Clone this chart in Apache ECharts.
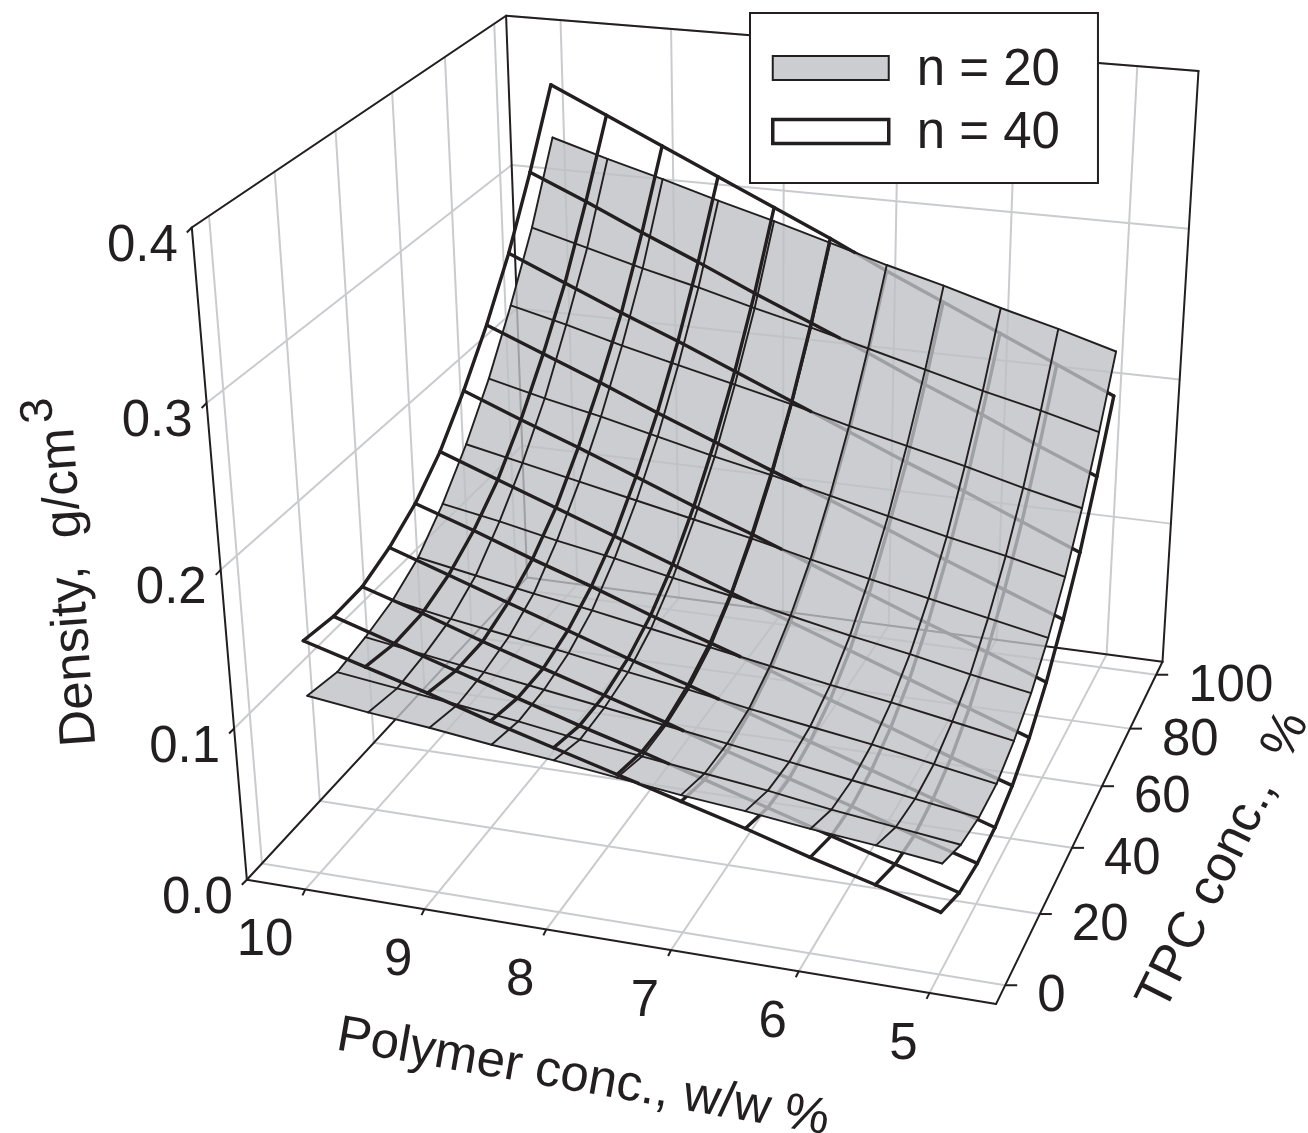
<!DOCTYPE html><html><head><meta charset="utf-8"><style>html,body{margin:0;background:#fff}#c{width:1308px;height:1133px}</style>
<script src="https://cdn.jsdelivr.net/npm/echarts@6/dist/echarts.min.js"></script></head><body><div id="c"></div><script>
// Grid of the two surfaces
const polymerGrid=[10,9.5,9,8.5,8,7.5,7,6.5,6,5.5,5];
const tpcGrid=[100,90,80,70,60,50,40,30,20,10,0];
// Density, g/cm3: rows follow tpcGrid, columns follow polymerGrid
const density20=[
[.328,.317,.307,.296,.286,.275,.264,.254,.243,.233,.222],
[.280,.270,.260,.251,.241,.232,.222,.212,.202,.193,.183],
[.241,.232,.222,.213,.204,.195,.185,.176,.167,.157,.148],
[.206,.197,.189,.180,.171,.163,.154,.145,.136,.128,.119],
[.177,.169,.161,.153,.145,.137,.128,.120,.112,.104,.096],
[.153,.146,.138,.131,.123,.116,.108,.100,.093,.085,.078],
[.134,.127,.120,.114,.107,.100,.093,.086,.080,.073,.066],
[.123,.116,.110,.104,.097,.091,.084,.078,.072,.065,.058],
[.117,.111,.105,.099,.093,.087,.081,.075,.069,.063,.057],
[.113,.108,.103,.098,.092,.087,.082,.077,.071,.066,.061],
[.117,.112,.108,.103,.099,.094,.089,.085,.080,.076,.071]];
const density40=[
[.363,.346,.329,.312,.295,.278,.260,.243,.226,.209,.192],
[.317,.301,.284,.268,.251,.235,.219,.202,.186,.169,.153],
[.276,.260,.244,.229,.213,.197,.181,.165,.150,.134,.118],
[.242,.227,.212,.196,.181,.166,.151,.136,.120,.105,.090],
[.213,.198,.184,.169,.154,.140,.125,.110,.095,.081,.066],
[.188,.174,.160,.146,.132,.118,.104,.090,.076,.062,.048],
[.170,.157,.143,.130,.116,.103,.090,.076,.063,.049,.036],
[.158,.145,.132,.119,.106,.094,.081,.068,.055,.042,.029],
[.150,.138,.125,.113,.101,.089,.076,.064,.052,.039,.027],
[.149,.137,.125,.113,.101,.090,.078,.066,.054,.042,.030],
[.152,.141,.130,.118,.107,.096,.085,.074,.062,.051,.040]];
// Axis ticks
const polymerTicks=[10,9,8,7,6,5];
const tpcTicks=[0,20,40,60,80,100];
const densityTicks=[0,.1,.2,.3,.4];
const densityLabels=['0.0','0.1','0.2','0.3','0.4'];
// 3D axis extents
const PA=10.5,PB=4.5,TA=-5,TB=105,DA=0,DB=.4;
// Perspective camera, fitted to where the box corners sit on the canvas
const cornerFit=[[0,0,0,245,880],[1,0,0,995,1005],[1,1,0,1162,660],[0,1,0,530,578],[0,0,1,195,226],[0,1,1,502,16],[1,1,1,1200,72]];
function fit(){const R=[];for(const [u,v,w,x,y] of cornerFit){R.push([u,v,w,1,0,0,0,0,-x*u,-x*v,-x*w,x]);R.push([0,0,0,0,u,v,w,1,-y*u,-y*v,-y*w,y]);}
const n=11,M=[];for(let i=0;i<n;i++){M.push(new Array(n+1).fill(0));for(const r of R)for(let j=0;j<=n;j++)M[i][j]+=r[i]*r[j];}
for(let i=0;i<n;i++){let p=i;for(let k=i;k<n;k++)if(Math.abs(M[k][i])>Math.abs(M[p][i]))p=k;[M[i],M[p]]=[M[p],M[i]];for(let k=0;k<n;k++)if(k!=i){const f=M[k][i]/M[i][i];for(let j=i;j<=n;j++)M[k][j]-=f*M[i][j];}}
return M.map((r,i)=>r[n]/r[i]);}
const c=fit();
function proj(P,T,D){const u=(PA-P)/(PA-PB),v=(T-TA)/(TB-TA),w=(D-DA)/(DB-DA);const h=c[8]*u+c[9]*v+c[10]*w+1;return [(c[0]*u+c[1]*v+c[2]*w+c[3])/h,(c[4]*u+c[5]*v+c[6]*w+c[7])/h];}
const INK='#231f20',GRID='#c9cbce';
// frame & wall grid
const wall=[],frame=[];
for(const P of polymerTicks){wall.push([P,TA,DA,P,TB,DA],[P,TB,DA,P,TB,DB]);}
for(const T of tpcTicks){wall.push([PA,T,DA,PB,T,DA],[PA,T,DA,PA,T,DB]);}
for(const D of densityTicks.slice(1)){wall.push([PA,TA,D,PA,TB,D],[PA,TB,D,PB,TB,D]);}
frame.push([PA,TA,DA,PB,TA,DA],[PB,TA,DA,PB,TB,DA],[PB,TB,DA,PA,TB,DA],[PA,TB,DA,PA,TA,DA],[PA,TA,DA,PA,TA,DB],[PA,TA,DB,PA,TB,DB],[PA,TB,DB,PB,TB,DB],[PA,TB,DB,PA,TB,DA],[PB,TB,DB,PB,TB,DA]);
function segPiece(p,api){const a=proj(api.value(0),api.value(1),api.value(2)),b=proj(api.value(3),api.value(4),api.value(5));const A=api.coord(a),B=api.coord(b);return {x1:A[0],y1:A[1],x2:B[0],y2:B[1]};}
function lineSeries(name,data,stroke,lineWidth,z){return {type:'custom',name,data,z,clip:false,silent:true,renderItem(p,api){return {type:'line',shape:segPiece(p,api),style:{stroke,lineWidth,lineCap:'round'}};}};}
// lines of both surfaces
const lines20=[],under40=[],over40=[];
function add40(i1,j1,i2,j2){const T1=tpcGrid[i1],T2=tpcGrid[i2],P1=polymerGrid[j1],P2=polymerGrid[j2],D1=density40[i1][j1],D2=density40[i2][j2];
 const d1=D1-density20[i1][j1],d2=D2-density20[i2][j2];
 if(d1>=0&&d2>=0)over40.push([P1,T1,D1,P2,T2,D2]);else if(d1<=0&&d2<=0)under40.push([P1,T1,D1,P2,T2,D2]);
 else{const t=d1/(d1-d2),Pm=P1+(P2-P1)*t,Tm=T1+(T2-T1)*t,Dm=D1+(D2-D1)*t;(d1>0?over40:under40).push([P1,T1,D1,Pm,Tm,Dm]);(d2>0?over40:under40).push([Pm,Tm,Dm,P2,T2,D2]);}}
for(let i=0;i<tpcGrid.length;i++)for(let j=0;j<polymerGrid.length;j++){
 if(j<polymerGrid.length-1){lines20.push([polymerGrid[j],tpcGrid[i],density20[i][j],polymerGrid[j+1],tpcGrid[i],density20[i][j+1]]);add40(i,j,i,j+1);}
 if(i<tpcGrid.length-1){lines20.push([polymerGrid[j],tpcGrid[i],density20[i][j],polymerGrid[j],tpcGrid[i+1],density20[i+1][j]]);add40(i,j,i+1,j);}
}
// silhouette of the n = 20 surface
const nI=tpcGrid.length-1,nJ=polymerGrid.length-1,rim=[];
for(let j=0;j<=nJ;j++)rim.push([polymerGrid[j],tpcGrid[0],density20[0][j]]);
for(let i=1;i<=nI;i++)rim.push([polymerGrid[nJ],tpcGrid[i],density20[i][nJ]]);
for(let j=nJ-1;j>=0;j--)rim.push([polymerGrid[j],tpcGrid[nI],density20[nI][j]]);
for(let i=nI-1;i>0;i--)rim.push([polymerGrid[0],tpcGrid[i],density20[i][0]]);
// ticks
const tickD=densityTicks.map(D=>[PA,TA,D,-5,5]),tickP=polymerTicks.map(P=>[P,TA,DA,-3,6]),tickT=tpcTicks.map(T=>[PB,T,DA,12,0]);
const ticks=[...tickD,...tickP,...tickT];
// tick labels
const labels=[];
densityTicks.forEach((D,i)=>labels.push({p:[PA,TA,D],dx:-14,dy:19,t:densityLabels[i],align:'right'}));
polymerTicks.forEach(P=>labels.push({p:[P,TA,DA],dx:-12,dy:52,t:String(P),align:'right'}));
tpcTicks.forEach(T=>labels.push({p:[PB,T,DA],dx:32,dy:12,t:String(T),align:'left'}));
const FONT='51px "Liberation Sans", Arial, sans-serif';
const titles=[
{t:'{a|Density, }{c|g/cm}{b|3}',x:61,y:572,r:1.64},
{t:'{a|Polymer conc., w/w %}',x:583,y:1078,r:-0.172},
{t:'{a|TPC conc., }{c|%}',x:1224,y:861,r:1.11}];
const ch=echarts.init(document.getElementById('c'));
ch.setOption({animation:false,backgroundColor:'#fff',
grid:{left:0,right:0,top:0,bottom:0},
xAxis:{type:'value',min:0,max:1308,show:false},yAxis:{type:'value',min:0,max:1133,inverse:true,show:false},
legend:{show:true,left:750,top:13,orient:'vertical',padding:[32,38,23.5,21],itemGap:12.5,itemWidth:116,itemHeight:24,selectedMode:false,backgroundColor:'#fff',borderColor:INK,borderWidth:2,
 formatter:n=>'{t|'+n+'}',
 textStyle:{color:INK,rich:{t:{fontSize:51,fontFamily:'Liberation Sans',color:INK,padding:[5,0,0,23]}}},
 data:[{name:'n = 20',icon:'rect',itemStyle:{color:'#cbcdd0',borderColor:INK,borderWidth:2}},{name:'n = 40',icon:'rect',itemStyle:{color:'#fff',borderColor:INK,borderWidth:3.5}}]},
series:[
 lineSeries('wall',wall,GRID,2,1),
 lineSeries('frame',frame,INK,2,2),
 {type:'custom',name:'ticks',data:ticks.map((_,i)=>[i]),z:2,clip:false,silent:true,renderItem(p,api){const q=ticks[p.dataIndex],a=api.coord(proj(q[0],q[1],q[2]));return {type:'line',shape:{x1:a[0],y1:a[1],x2:a[0]+q[3],y2:a[1]+q[4]},style:{stroke:INK,lineWidth:2}};}},
 lineSeries('n = 40',under40,INK,3.4,3),
 {type:'custom',name:'n = 20',data:[[0]],z:4,clip:false,silent:true,renderItem(p,api){return {type:'polygon',shape:{points:rim.map(q=>api.coord(proj(q[0],q[1],q[2])))},style:{fill:'rgba(190,192,196,0.8)'}};}},
 lineSeries('n = 20',lines20,INK,1.9,5),
 lineSeries('n = 40',over40,INK,3.4,6),
 {type:'custom',name:'labels',data:labels.map((_,i)=>[i]),z:7,clip:false,silent:true,renderItem(p,api){const l=labels[p.dataIndex],a=api.coord(proj(...l.p));return {type:'text',x:a[0]+l.dx,y:a[1]+l.dy,style:{text:l.t,font:FONT,fill:INK,align:l.align,verticalAlign:'middle'}};}},
 {type:'custom',name:'titles',data:titles.map((_,i)=>[i]),z:7,clip:false,silent:true,renderItem(p,api){const l=titles[p.dataIndex];return {type:'text',x:l.x,y:l.y,rotation:l.r,originX:0,originY:0,style:{text:l.t,align:'center',verticalAlign:'middle',rich:{a:{font:FONT,fill:INK,verticalAlign:'bottom'},c:{font:FONT,fill:INK,verticalAlign:'bottom',padding:[0,0,0,14]},b:{font:'46px "Liberation Sans", Arial, sans-serif',fill:INK,verticalAlign:'top',padding:[0,0,21,6]}}}};}}
]});
</script></body></html>
